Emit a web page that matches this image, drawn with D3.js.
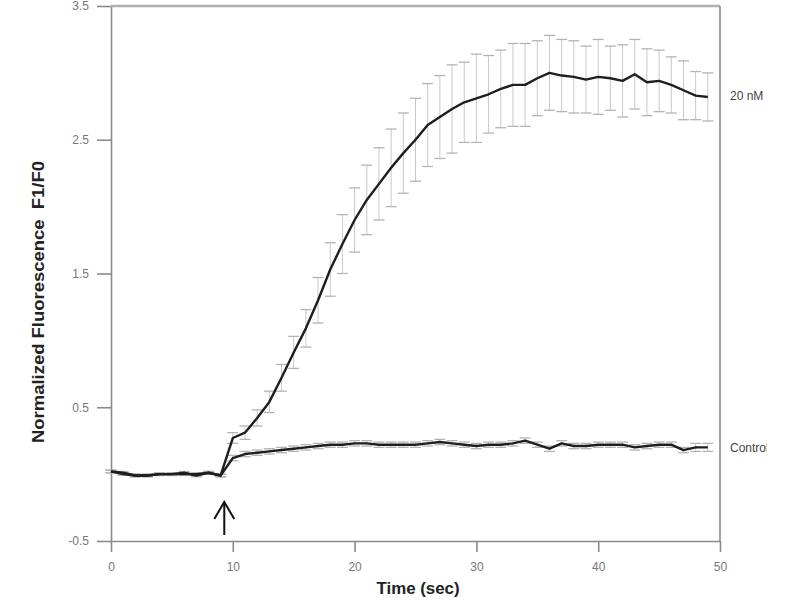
<!DOCTYPE html>
<html>
<head>
<meta charset="utf-8">
<script src="https://cdn.jsdelivr.net/npm/d3@7"></script>
<style>
  html, body { margin: 0; padding: 0; background: #fff; }
  svg { display: block; }
</style>
</head>
<body>
<svg id="chart" width="800" height="600"></svg>
<script>
// ---- data ----
const time = d3.range(0, 50); // 0..49 s

const nM20 = [0.02, 0.00, -0.01, -0.01, 0.00, 0.00, 0.00, 0.00, 0.01, -0.01,
  0.27, 0.31, 0.42, 0.54, 0.72, 0.91, 1.09, 1.30, 1.53, 1.72,
  1.90, 2.05, 2.17, 2.29, 2.40, 2.50, 2.61, 2.67, 2.73, 2.78,
  2.81, 2.84, 2.88, 2.91, 2.91, 2.96, 3.00, 2.98, 2.97, 2.95,
  2.97, 2.96, 2.94, 2.99, 2.93, 2.94, 2.91, 2.87, 2.83, 2.82];

const nM20Err = [0.01, 0.01, 0.01, 0.01, 0.01, 0.01, 0.01, 0.01, 0.01, 0.01,
  0.04, 0.05, 0.06, 0.08, 0.10, 0.12, 0.14, 0.17, 0.20, 0.22,
  0.24, 0.26, 0.27, 0.29, 0.30, 0.31, 0.31, 0.31, 0.33, 0.30,
  0.33, 0.29, 0.29, 0.31, 0.31, 0.28, 0.28, 0.27, 0.27, 0.25,
  0.28, 0.24, 0.27, 0.26, 0.25, 0.23, 0.21, 0.22, 0.18, 0.18];

const control = [0.02, 0.01, -0.01, -0.01, 0.00, 0.00, 0.01, -0.01, 0.01, -0.01,
  0.12, 0.15, 0.16, 0.17, 0.18, 0.19, 0.20, 0.21, 0.22, 0.22,
  0.23, 0.23, 0.22, 0.22, 0.22, 0.22, 0.23, 0.24, 0.23, 0.22,
  0.21, 0.22, 0.22, 0.23, 0.25, 0.22, 0.19, 0.23, 0.21, 0.21,
  0.22, 0.22, 0.22, 0.20, 0.21, 0.22, 0.22, 0.18, 0.20, 0.20];

const controlErr = [0.01, 0.01, 0.01, 0.01, 0.01, 0.01, 0.01, 0.01, 0.01, 0.01,
  0.02, 0.02, 0.02, 0.02, 0.02, 0.02, 0.02, 0.02, 0.02, 0.02,
  0.02, 0.02, 0.02, 0.02, 0.02, 0.02, 0.02, 0.02, 0.02, 0.02,
  0.02, 0.02, 0.02, 0.02, 0.02, 0.02, 0.02, 0.02, 0.02, 0.02,
  0.02, 0.02, 0.02, 0.02, 0.02, 0.02, 0.02, 0.02, 0.03, 0.03];

const xTicks = [0, 10, 20, 30, 40, 50];
const yTicks = [-0.5, 0.5, 1.5, 2.5, 3.5];
const seriesLabels = ["20 nM", "Control"];
const arrowTime = 9.3;

// ---- chart ----
const svg = d3.select("#chart");
const x = d3.scaleLinear().domain([0, 50]).range([111, 720]);
const y = d3.scaleLinear().domain([-0.5, 3.5]).range([541, 6]);

const axisColor = "#8a8a8a";
const labelFont = "'Liberation Sans Narrow', 'Arial Narrow', 'Liberation Sans', Arial, sans-serif";
const fmtY = d => d3.format(".1f")(d).replace("\u2212", "-");

// left axis
const gy = svg.append("g").attr("transform", `translate(${x(0)},0)`)
  .call(d3.axisLeft(y).tickValues(yTicks).tickSize(14).tickSizeOuter(0)
    .tickPadding(8).tickFormat(fmtY));
// bottom axis
const gx = svg.append("g").attr("transform", `translate(0,${y(-0.5)})`)
  .call(d3.axisBottom(x).tickValues(xTicks).tickSize(11).tickSizeOuter(0)
    .tickPadding(10).tickFormat(d3.format("d")));

[gx, gy].forEach(g => {
  g.select(".domain").attr("stroke", axisColor).attr("stroke-width", 1.6);
  g.selectAll(".tick line").attr("stroke", axisColor).attr("stroke-width", 1.6);
  g.selectAll(".tick text").attr("fill", "#777").attr("font-size", 12)
    .attr("font-family", labelFont);
});

// top and right frame lines
svg.append("line")
  .attr("x1", x(0)).attr("x2", x(50)).attr("y1", y(3.5)).attr("y2", y(3.5))
  .attr("stroke", "#b0b0b0").attr("stroke-width", 2.5);
svg.append("line")
  .attr("x1", x(50)).attr("x2", x(50)).attr("y1", y(3.5)).attr("y2", y(-0.5))
  .attr("stroke", axisColor).attr("stroke-width", 1.6);

// error bars
function errorBars(vals, errs, cap) {
  const g = svg.append("g");
  time.forEach((t, i) => {
    const cx = x(t), top = y(vals[i] + errs[i]), bot = y(vals[i] - errs[i]);
    g.append("line").attr("x1", cx).attr("x2", cx).attr("y1", top).attr("y2", bot)
      .attr("stroke", "#c8c8c8").attr("stroke-width", 1);
    [top, bot].forEach(yy => g.append("line")
      .attr("x1", cx - cap / 2).attr("x2", cx + cap / 2).attr("y1", yy).attr("y2", yy)
      .attr("stroke", "#b4b4b4").attr("stroke-width", 1.3));
  });
}
errorBars(nM20, nM20Err, 11);
errorBars(control, controlErr, 11);

// lines
const line = d3.line().x((d, i) => x(time[i])).y(d => y(d));
[control, nM20].forEach(s => {
  svg.append("path").datum(s).attr("d", line)
    .attr("fill", "none").attr("stroke", "#1e1e1e").attr("stroke-width", 2.4)
    .attr("stroke-linejoin", "round");
});

// series labels
svg.append("text").attr("x", 730).attr("y", y(2.83)).attr("dy", "0.35em")
  .attr("font-family", labelFont).attr("font-size", 12).attr("fill", "#444")
  .text(seriesLabels[0]);
svg.append("clipPath").attr("id", "clipCtl").append("rect")
  .attr("x", 725).attr("y", 430).attr("width", 42).attr("height", 40);
svg.append("text").attr("x", 730).attr("y", y(0.2)).attr("dy", "0.35em")
  .attr("clip-path", "url(#clipCtl)")
  .attr("font-family", labelFont).attr("font-size", 12).attr("fill", "#444")
  .text(seriesLabels[1]);

// arrow marking addition
const ax = x(arrowTime);
svg.append("line").attr("x1", ax).attr("x2", ax).attr("y1", 502).attr("y2", 535)
  .attr("stroke", "#111").attr("stroke-width", 2);
svg.append("path")
  .attr("d", `M${ax - 10},${519} L${ax},${502} L${ax + 10},${519}`)
  .attr("fill", "none").attr("stroke", "#111").attr("stroke-width", 2);

// axis titles
svg.append("text").attr("x", 418).attr("y", 594).attr("text-anchor", "middle")
  .attr("font-family", "'Liberation Sans', Arial, sans-serif").attr("font-weight", "bold")
  .attr("font-size", 16).attr("fill", "#222")
  .attr("textLength", 83).attr("lengthAdjust", "spacingAndGlyphs")
  .text("Time (sec)");
svg.append("text")
  .attr("transform", `translate(44,302) rotate(-90)`).attr("text-anchor", "middle")
  .attr("font-family", "'Liberation Sans', Arial, sans-serif").attr("font-weight", "bold")
  .attr("font-size", 16).attr("fill", "#222").attr("xml:space", "preserve")
  .attr("textLength", 282).attr("lengthAdjust", "spacingAndGlyphs")
  .text("Normalized Fluorescence  F1/F0");
</script>
</body>
</html>
